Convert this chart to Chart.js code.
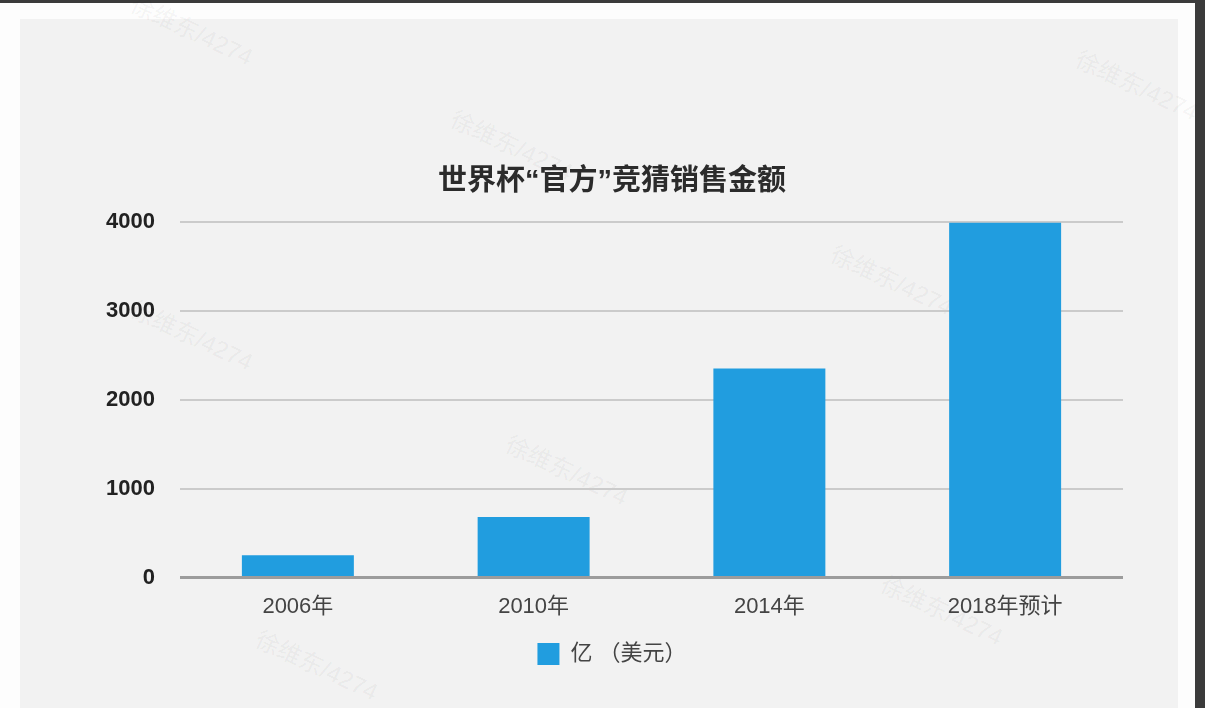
<!DOCTYPE html>
<html>
<head>
<meta charset="utf-8">
<script src="https://cdn.jsdelivr.net/npm/chart.js@4/dist/chart.umd.min.js"></script>
<style>
  html, body { margin: 0; padding: 0; }
  body { width: 1205px; height: 708px; background: #3b3b3b; position: relative; overflow: hidden; }
  #frame { position: absolute; left: 0; top: 3px; width: 1195px; height: 705px; background: #fdfdfd; }
  #panel { position: absolute; left: 20px; top: 19px; width: 1158px; height: 689px; background: #f2f2f2; }
  #wrap { position: absolute; left: 40px; top: 0; width: 1144px; height: 708px; }
  .wm { position: absolute; color: rgba(0,0,0,0.055); font: 24px "Liberation Sans", "Noto Sans CJK SC", sans-serif; transform: rotate(25deg); transform-origin: left top; white-space: nowrap; }
</style>
</head>
<body>
<div id="frame"></div>
<div id="panel"></div>
<div class="wm" style="left:460px;top:100px;">徐维东/4274</div>
<div class="wm" style="left:840px;top:235px;">徐维东/4274</div>
<div class="wm" style="left:140px;top:290px;">徐维东/4274</div>
<div class="wm" style="left:515px;top:425px;">徐维东/4274</div>
<div class="wm" style="left:265px;top:620px;">徐维东/4274</div>
<div class="wm" style="left:1085px;top:40px;">徐维东/4274</div>
<div class="wm" style="left:890px;top:565px;">徐维东/4274</div>
<div class="wm" style="left:140px;top:-15px;">徐维东/4274</div>
<div id="wrap"><canvas id="c" width="1144" height="708"></canvas></div>
<script>
const categories = ["2006年", "2010年", "2014年", "2018年预计"];
const seriesName = "亿 （美元）";
const values = [250, 680, 2350, 3990];
const yTicks = [0, 1000, 2000, 3000, 4000];
const titleText = "世界杯“官方”竞猜销售金额";

const FONT = '"Liberation Sans", "Noto Sans CJK SC", sans-serif';

new Chart(document.getElementById("c"), {
  type: "bar",
  data: {
    labels: categories,
    datasets: [{
      label: seriesName,
      data: values,
      backgroundColor: "#219ddf",
      borderWidth: 0,
      categoryPercentage: 1.0,
      barPercentage: 0.475
    }]
  },
  options: {
    responsive: false,
    devicePixelRatio: 1,
    animation: false,
    layout: { padding: { left: 61, right: 61, top: 165, bottom: 33 } },
    plugins: {
      title: {
        display: true,
        text: titleText,
        color: "#2b2b2b",
        font: { family: FONT, size: 29, weight: "bold" },
        padding: { top: 0, bottom: 22 }
      },
      legend: {
        position: "bottom",
        labels: {
          boxWidth: 22,
          boxHeight: 22,
          color: "#444",
          font: { family: FONT, size: 22 },
          padding: 7
        }
      },
      tooltip: { enabled: false }
    },
    scales: {
      x: {
        grid: { display: false, drawTicks: false },
        border: { display: false },
        ticks: { color: "#444", font: { family: FONT, size: 22 }, padding: 16 }
      },
      y: {
        min: 0,
        max: 4000,
        afterFit: (s) => { s.width = 79; },
        afterBuildTicks: (s) => { s.ticks = yTicks.map(v => ({ value: v })); },
        grid: {
          drawTicks: false,
          color: (ctx) => ctx.tick && ctx.tick.value === 0 ? "#9c9c9c" : "#cbcbcb",
          lineWidth: (ctx) => ctx.tick && ctx.tick.value === 0 ? 3 : 2
        },
        border: { display: false },
        ticks: {
          color: "#222",
          font: { family: FONT, size: 22, weight: "bold" },
          padding: 25,
          callback: (v) => String(v)
        }
      }
    }
  }
});
</script>
</body>
</html>
